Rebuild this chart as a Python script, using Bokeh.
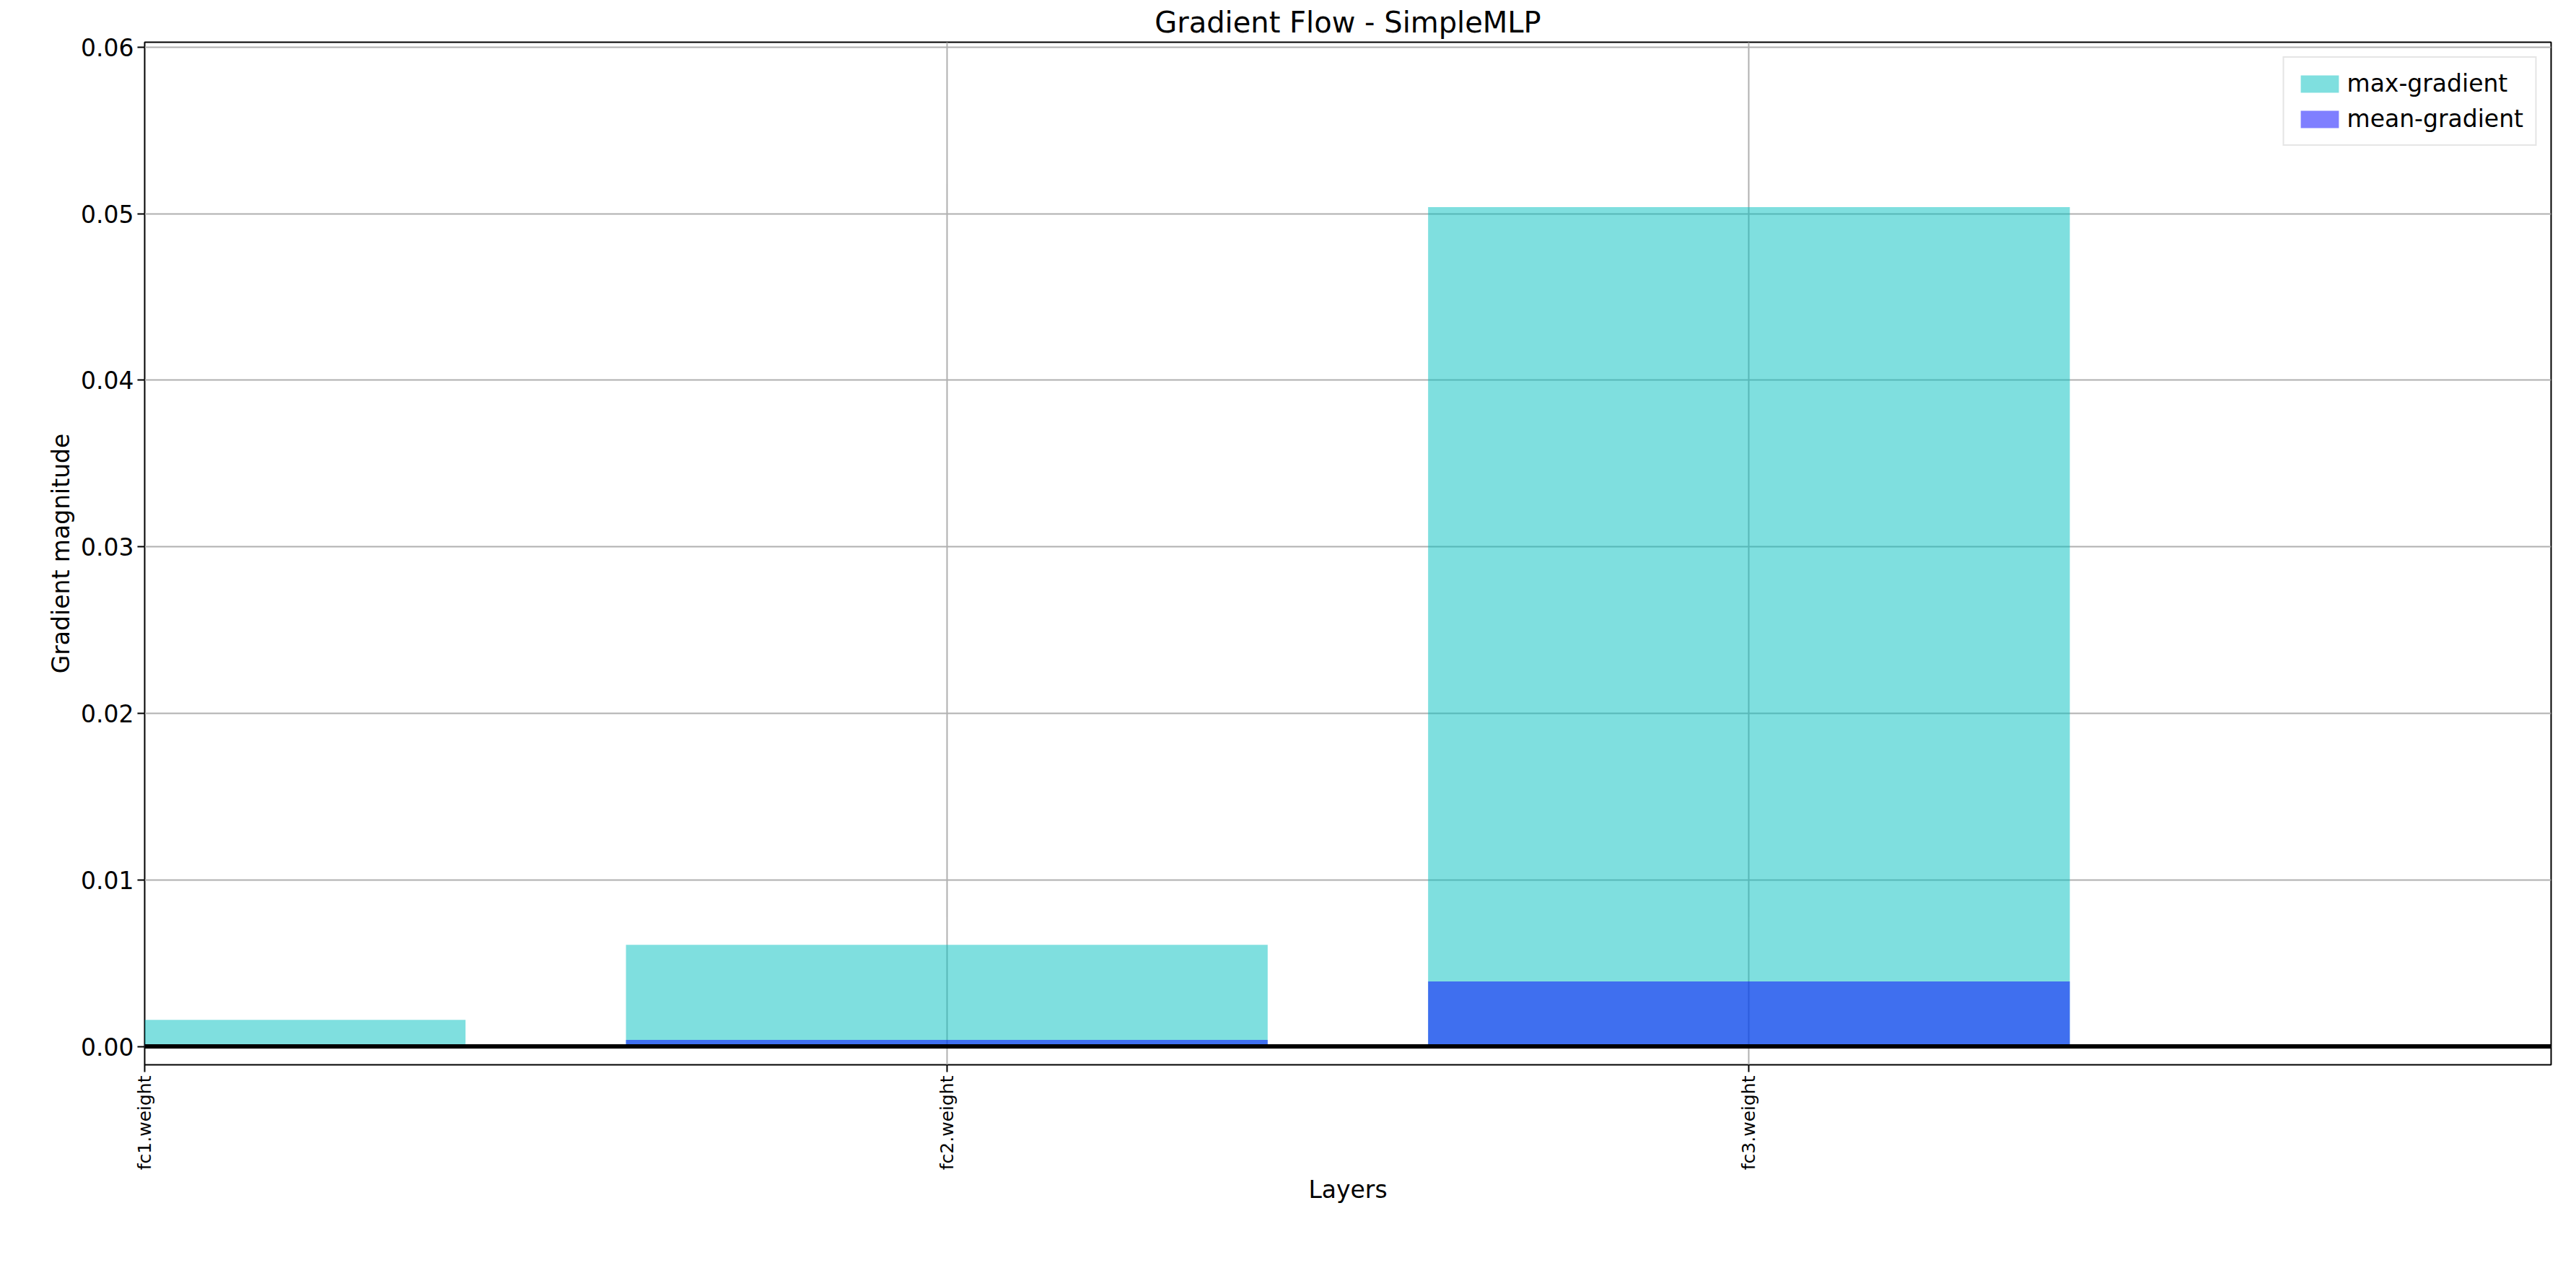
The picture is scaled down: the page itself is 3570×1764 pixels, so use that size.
import math
from bokeh.plotting import figure
from bokeh.models import Range1d, FixedTicker, Legend, LegendItem, NumeralTickFormatter
from bokeh.embed import file_html
from bokeh.resources import INLINE

layers = ["fc1.weight", "fc2.weight", "fc3.weight"]
max_grads = [0.0016, 0.0061, 0.0504]
mean_grads = [0.0001, 0.0004, 0.0039]
xs = list(range(len(layers)))

FONT = "DejaVu Sans"

p = figure(width=3550, height=1745, output_backend="svg", toolbar_location=None,
           x_range=Range1d(0, len(layers)), y_range=Range1d(-0.0011, 0.0603),
           title="Gradient Flow - SimpleMLP", min_border_left=200, min_border_right=15,
           min_border_top=20, min_border_bottom=270)
p.title.align = "center"
p.title.text_font = FONT
p.title.text_font_size = "40px"
p.title.text_font_style = "normal"
p.title.text_color = "black"

r1 = p.vbar(x=xs, top=max_grads, width=0.8, color="#00bfbf", alpha=0.5, line_color=None)
r2 = p.vbar(x=xs, top=mean_grads, width=0.8, color="#0000ff", alpha=0.5, line_color=None)
p.segment(x0=[0], y0=[0], x1=[len(layers) + 1], y1=[0], line_color="black", line_width=6)

p.xaxis.ticker = FixedTicker(ticks=xs)
p.xaxis.major_label_overrides = {i: l for i, l in enumerate(layers)}
p.xaxis.major_label_orientation = math.pi / 2
p.xaxis.major_label_text_font_size = "25px"
p.yaxis.ticker = FixedTicker(ticks=[0, 0.01, 0.02, 0.03, 0.04, 0.05, 0.06])
p.yaxis.formatter = NumeralTickFormatter(format="0.00")
p.yaxis.major_label_text_font_size = "33px"
p.xaxis.axis_label = "Layers"
p.yaxis.axis_label = "Gradient magnitude"
for ax in (p.xaxis[0], p.yaxis[0]):
    ax.axis_label_text_font = FONT
    ax.axis_label_text_font_style = "normal"
    ax.axis_label_text_font_size = "33px"
    ax.axis_label_text_color = "black"
    ax.major_label_text_font = FONT
    ax.major_label_text_color = "black"
    ax.axis_line_color = None
    ax.major_tick_line_color = "black"
    ax.major_tick_line_width = 2
    ax.major_tick_out = 10
    ax.major_tick_in = 0
    ax.minor_tick_line_color = None

p.grid.grid_line_color = "#b0b0b0"
p.grid.grid_line_width = 2
p.outline_line_color = "black"
p.outline_line_width = 2

legend = Legend(items=[LegendItem(label="max-gradient", renderers=[r1]),
                       LegendItem(label="mean-gradient", renderers=[r2])],
                location="top_right", label_text_font=FONT, label_text_font_size="33px",
                label_text_color="black",
                border_line_color="#cccccc", border_line_width=2, glyph_width=66,
                glyph_height=30, margin=20, padding=16, spacing=10)
p.add_layout(legend)

open("out.html", "w").write(file_html(p, INLINE))
